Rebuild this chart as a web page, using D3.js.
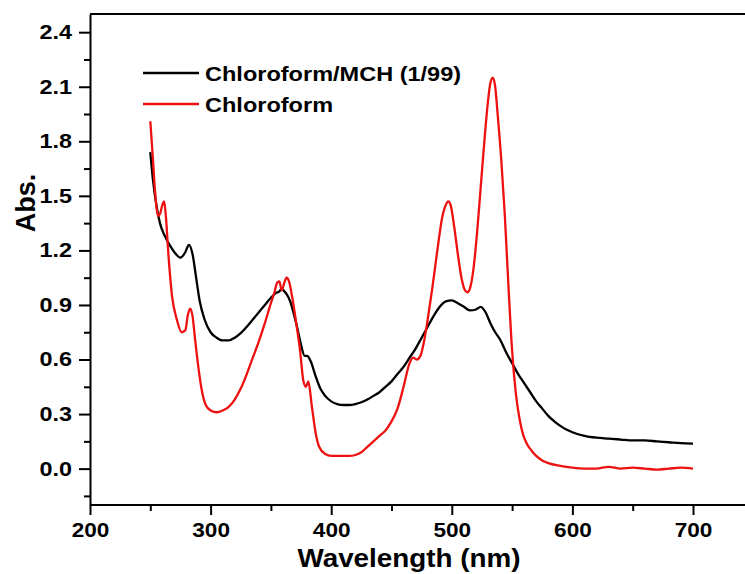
<html>
<head>
<style>
    body { margin: 0; background: #fff; }
    text { font-family: "Liberation Sans", Arial, sans-serif; font-weight: bold; fill: #000; }
    g.axis path, g.axis line { stroke: #000; stroke-width: 2; }
    path.series { fill: none; stroke-width: 2.3; stroke-linejoin: round; }
</style>
</head>
<body>
<div id="target"></div>
<script src="https://cdnjs.cloudflare.com/ajax/libs/d3/7.8.5/d3.min.js"></script>
<script>
    // Chloroform/MCH (1/99) - black
    var mchWavelength = [250, 252, 255, 258, 262, 266, 270, 275, 279, 282, 285, 288, 291, 295, 300, 305, 310, 315, 320, 325,
        330, 335, 340, 345, 350, 354, 357, 359, 361, 363, 366, 369, 372, 375, 378, 380, 383, 387, 391, 395,
        400, 405, 410, 415, 420, 425, 430, 435, 440, 445, 450, 455, 460, 465, 470, 475, 480, 485, 490, 495,
        500, 505, 510, 515, 520, 524, 528, 532, 536, 540, 545, 550, 555, 560, 565, 570, 575, 580, 585, 590,
        595, 600, 610, 620, 630, 640, 650, 660, 670, 680, 690, 700];
    var mchAbs = [1.74, 1.60, 1.45, 1.35, 1.28, 1.23, 1.19, 1.16, 1.19, 1.23, 1.18, 1.05, 0.92, 0.82, 0.75, 0.72, 0.705, 0.705, 0.72, 0.745,
        0.78, 0.82, 0.86, 0.90, 0.94, 0.965, 0.975, 0.99, 0.975, 0.96, 0.92, 0.85, 0.77, 0.68, 0.62, 0.62, 0.59, 0.51, 0.44, 0.40,
        0.37, 0.355, 0.35, 0.35, 0.355, 0.365, 0.38, 0.40, 0.42, 0.45, 0.48, 0.52, 0.56, 0.61, 0.66, 0.72, 0.78, 0.84, 0.89, 0.92,
        0.925, 0.91, 0.89, 0.87, 0.875, 0.89, 0.86, 0.80, 0.75, 0.71, 0.64, 0.58, 0.52, 0.47, 0.42, 0.37, 0.33, 0.29, 0.26, 0.235,
        0.215, 0.20, 0.18, 0.17, 0.165, 0.16, 0.155, 0.155, 0.15, 0.145, 0.14, 0.138];

    // Chloroform - red
    var chlWavelength = [250, 252, 254, 256.5, 258, 260, 261.5, 263, 265, 268, 272, 276, 279, 281, 283, 285, 287, 290, 293, 296,
        300, 305, 310, 315, 320, 325, 330, 335, 340, 345, 350, 353, 355, 357, 359, 361, 363, 365, 368, 371,
        374, 377, 379, 381, 384, 387, 390, 395, 400, 405, 410, 415, 420, 425, 430, 435, 440, 445, 450, 455,
        460, 465, 468, 471, 474, 477, 480, 484, 488, 492, 495, 497, 499, 502, 505, 508, 511, 513, 515, 518,
        521, 524, 527, 530, 532, 534, 536, 538, 541, 544, 547, 550, 553, 556, 559, 562, 566, 570, 575, 580,
        590, 600, 610, 620, 630, 640, 650, 660, 670, 680, 690, 700];
    var chlAbs = [1.91, 1.72, 1.52, 1.39, 1.40, 1.45, 1.47, 1.38, 1.18, 0.95, 0.82, 0.75, 0.76, 0.84, 0.88, 0.84, 0.72, 0.55, 0.42, 0.35,
        0.32, 0.31, 0.32, 0.34, 0.38, 0.44, 0.52, 0.61, 0.70, 0.80, 0.91, 0.97, 1.02, 1.03, 0.98, 1.02, 1.05, 1.03, 0.93, 0.80,
        0.66, 0.48, 0.45, 0.48, 0.34, 0.20, 0.12, 0.08, 0.07, 0.07, 0.07, 0.07, 0.075, 0.09, 0.12, 0.15, 0.18, 0.21, 0.26, 0.33,
        0.45, 0.58, 0.61, 0.60, 0.62, 0.70, 0.82, 1.00, 1.20, 1.38, 1.45, 1.47, 1.45, 1.33, 1.18, 1.05, 0.98, 0.97, 0.99, 1.10,
        1.30, 1.55, 1.80, 2.02, 2.12, 2.15, 2.10, 1.95, 1.70, 1.39, 1.00, 0.65, 0.42, 0.28, 0.19, 0.14, 0.10, 0.07, 0.045, 0.03,
        0.015, 0.005, 0.0, 0.0, 0.01, 0.0, 0.005, 0.0, -0.005, 0.0, 0.005, 0.0];

    var xMajor = [200, 300, 400, 500, 600, 700];
    var xMinor = [250, 350, 450, 550, 650];
    var yMajor = [0.0, 0.3, 0.6, 0.9, 1.2, 1.5, 1.8, 2.1, 2.4];
    var yMinor = [-0.15, 0.15, 0.45, 0.75, 1.05, 1.35, 1.65, 1.95, 2.25];

    var series = [
        {name: 'Chloroform/MCH (1/99)', color: '#000000', wl: mchWavelength, abs: mchAbs},
        {name: 'Chloroform', color: '#ee1111', wl: chlWavelength, abs: chlAbs}
    ];

    var W = 745, H = 574;
    var plotLeft = 90, plotTop = 14, plotBottom = 505, plotRight = 813.6;

    var svg = d3.select('#target').append('svg')
        .attr('width', W).attr('height', H)
        .style('display', 'block');

    // the original picture is a bit wider than tall, so texts look stretched
    var stretch = function (sel, factor) {
        sel.each(function () {
            var w = this.getComputedTextLength();
            d3.select(this).attr('textLength', w * factor).attr('lengthAdjust', 'spacingAndGlyphs');
        });
    };

    // right border lies outside the picture, as in the original crop
    var x = d3.scaleLinear().domain([200, 800]).range([plotLeft, plotRight]);
    var y = d3.scaleLinear().domain([-0.2, 2.5]).range([plotBottom, plotTop]);

    // frame (top + right)
    svg.append('path')
        .attr('d', 'M' + plotLeft + ',' + plotTop + ' L' + plotRight + ',' + plotTop + ' L' + plotRight + ',' + plotBottom)
        .attr('fill', 'none').attr('stroke', '#000').attr('stroke-width', 2);

    // x axis
    var gx = svg.append('g').attr('class', 'axis')
        .attr('transform', 'translate(0,' + plotBottom + ')');
    gx.call(d3.axisBottom(x).tickValues(xMajor).tickSize(10).tickSizeOuter(0).tickPadding(8)
        .tickFormat(d3.format('d')));
    gx.select('.domain').attr('d', 'M' + plotLeft + ',0H' + plotRight);
    gx.append('g').call(d3.axisBottom(x).tickValues(xMinor).tickSize(6).tickFormat(''))
        .select('.domain').remove();
    gx.selectAll('text').style('font-size', '20px').call(stretch, 1.13);

    // y axis
    var gy = svg.append('g').attr('class', 'axis')
        .attr('transform', 'translate(' + plotLeft + ',0)');
    gy.call(d3.axisLeft(y).tickValues(yMajor).tickSize(11).tickSizeOuter(0).tickPadding(7)
        .tickFormat(d3.format('.1f')));
    gy.append('g').call(d3.axisLeft(y).tickValues(yMinor).tickSize(6).tickFormat(''))
        .select('.domain').remove();
    gy.selectAll('text').style('font-size', '20px').call(stretch, 1.17);

    // axis titles
    svg.append('text')
        .attr('x', 409).attr('y', 567)
        .attr('text-anchor', 'middle')
        .style('font-size', '26px')
        .text('Wavelength (nm)')
        .call(stretch, 1.07);
    svg.append('text')
        .attr('transform', 'translate(35,203) rotate(-90)')
        .attr('text-anchor', 'middle')
        .style('font-size', '27px')
        .text('Abs.');

    // curves
    var line = d3.line()
        .x(function (d) { return x(d[0]); })
        .y(function (d) { return y(d[1]); })
        .curve(d3.curveMonotoneX);

    series.forEach(function (s) {
        svg.append('path')
            .attr('class', 'series')
            .attr('stroke', s.color)
            .attr('d', line(d3.zip(s.wl, s.abs)));
    });

    // legend
    var legend = svg.append('g').attr('transform', 'translate(143,73)');
    series.forEach(function (s, i) {
        var g = legend.append('g').attr('transform', 'translate(0,' + (i * 31) + ')');
        g.append('line').attr('x1', 0).attr('x2', 56).attr('y1', 0).attr('y2', 0)
            .attr('stroke', s.color).attr('stroke-width', 2.3);
        g.append('text').attr('x', 62).attr('y', 8)
            .style('font-size', '21px')
            .text(s.name)
            .call(stretch, 1.12);
    });
</script>
</body>
</html>
